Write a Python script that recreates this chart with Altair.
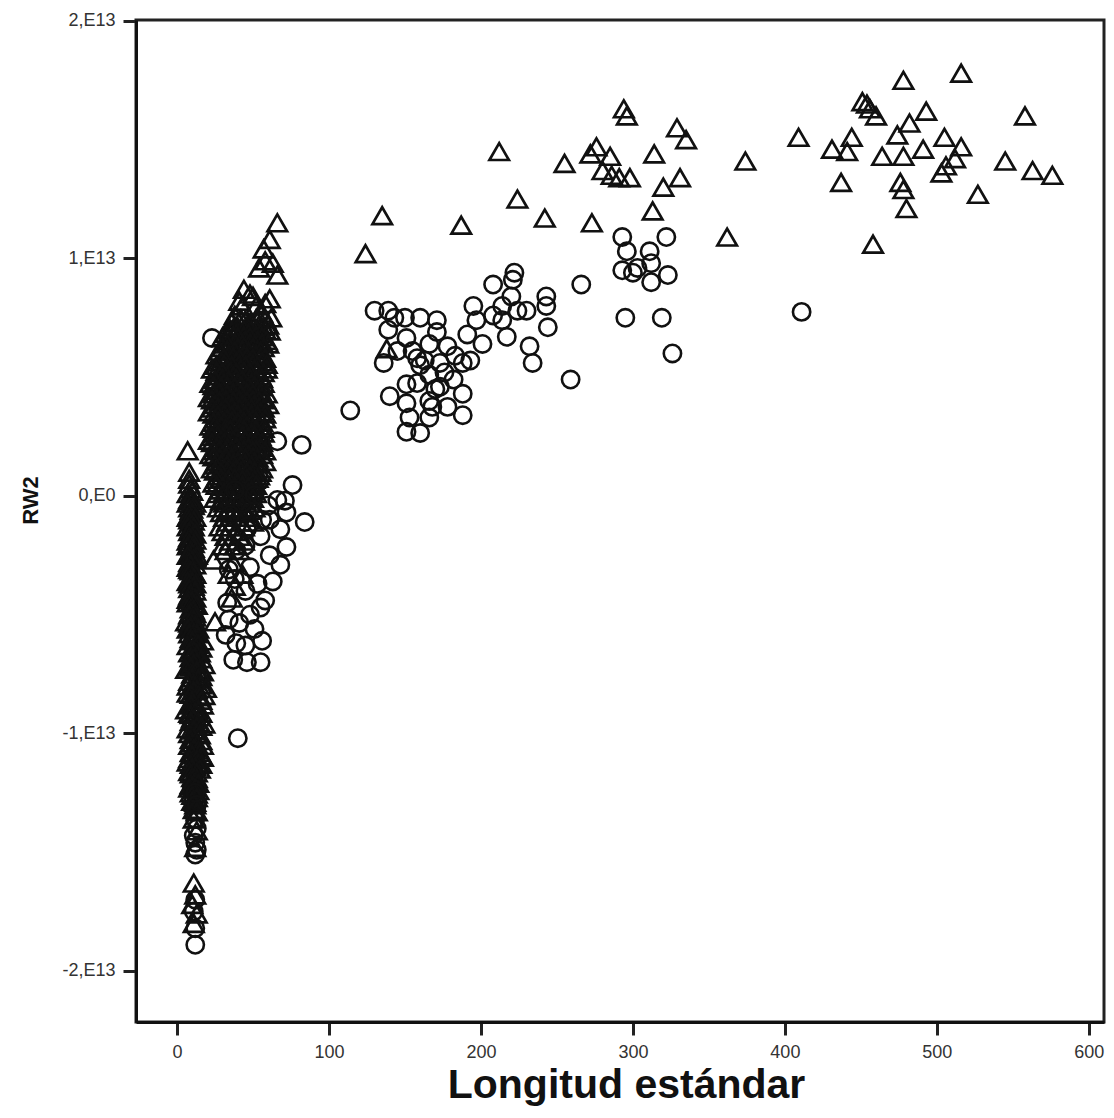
import altair as alt
import pandas as pd

# Values: (Longitud estándar, RW2 in units of 1E12)

# Group 1 (triangles) – large specimens
tri_large = [
    (124, 10.2), (135, 11.8), (187, 11.4), (212, 14.5), (224, 12.5), (242, 11.7),
    (255, 14.0), (273, 11.5), (272, 14.4), (276, 14.7), (285, 14.3), (280, 13.7),
    (286, 13.5), (291, 13.4), (294, 16.3), (296, 16.0), (298, 13.4), (314, 14.4),
    (313, 12.0), (320, 13.0), (329, 15.5), (331, 13.4), (335, 15.0), (362, 10.9),
    (374, 14.1), (409, 15.1), (431, 14.6), (437, 13.2), (441, 14.5), (444, 15.1),
    (451, 16.6), (454, 16.5), (456, 16.3), (458, 10.6), (460, 16.0), (464, 14.3),
    (474, 15.2), (478, 17.5), (476, 13.2), (478, 12.9), (480, 12.1), (478, 14.3),
    (482, 15.7), (491, 14.6), (493, 16.2), (503, 13.6), (506, 13.9), (505, 15.1),
    (512, 14.2), (516, 14.7), (516, 17.8), (527, 12.7), (545, 14.1), (558, 16.0),
    (563, 13.7), (576, 13.5), (138, 6.2),
]

# Group 1 (triangles) – smallest specimens, narrow column
tri_col_a = [
    (7, 1.9), (8, 1.0), (8, 0.7), (8, 0.5), (9, 0.3), (10, 0.2), (7, 0.1),
    (10, -0.1), (8, -0.15), (9, -0.2), (7, -0.3), (12, -0.3), (11, -0.4), (8, -0.5),
    (10, -0.55), (9, -0.6), (10, -0.7), (8, -0.8), (7, -0.9), (12, -0.9), (8, -1.0),
    (11, -1.05), (9, -1.1), (10, -1.2), (11, -1.3), (7, -1.3), (9, -1.4), (8, -1.5),
    (11, -1.55), (12, -1.6), (10, -1.7), (8, -1.75), (9, -1.8), (12, -1.85),
    (7, -1.9), (8, -2.0), (11, -2.0), (7, -2.1), (10, -2.15), (11, -2.2), (9, -2.3),
    (10, -2.4), (8, -2.45), (7, -2.5), (13, -2.5), (12, -2.6), (11, -2.65),
    (10, -2.7), (8, -2.8), (12, -2.9), (9, -2.9), (7, -3.0), (8, -3.1), (9, -3.15),
    (11, -3.2), (12, -3.3), (10, -3.4), (11, -3.45), (9, -3.5), (7, -3.6),
    (10, -3.6), (8, -3.7), (12, -3.7), (11, -3.8), (8, -3.9), (12, -4.0), (9, -4.1),
    (8, -4.2), (10, -4.25), (12, -4.3), (7, -4.35), (10, -4.4), (7, -4.5),
    (11, -4.55), (13, -4.6), (10, -4.7), (9, -4.75), (11, -4.8), (9, -4.9),
    (12, -4.95), (8, -5.0), (12, -5.1), (10, -5.15), (11, -5.2),
    (6, -5.3), (8, -5.35), (10, -5.4), (12, -5.45), (9, -5.5), (14, -5.6), (7, -5.6),
    (11, -5.75), (8, -5.8), (13, -5.8), (12, -6.0), (9, -6.0), (17, -6.1), (10, -6.1),
    (13, -6.2), (14, -6.25), (7, -6.3), (16, -6.4), (10, -6.45), (11, -6.5),
    (15, -6.6), (8, -6.6), (13, -6.65), (9, -6.8), (12, -6.8), (16, -6.85),
    (10, -6.9), (13, -7.0), (11, -7.05), (18, -7.1), (8, -7.15), (9, -7.2),
    (6, -7.3), (15, -7.3), (13, -7.35), (17, -7.4), (10, -7.5), (16, -7.6),
    (10, -7.65), (14, -7.7), (8, -7.8), (11, -7.9), (16, -7.95), (12, -8.0),
    (7, -8.0), (19, -8.1), (13, -8.15), (11, -8.2), (7, -8.3), (9, -8.35),
    (14, -8.4), (18, -8.4), (15, -8.45), (10, -8.6), (16, -8.6), (11, -8.75),
    (17, -8.8), (9, -8.8), (13, -8.95), (6, -9.0), (14, -9.0), (12, -9.1),
    (8, -9.15), (16, -9.15), (9, -9.2), (15, -9.3), (10, -9.35), (11, -9.4),
    (9, -9.5), (14, -9.55), (18, -9.6), (13, -9.7), (16, -9.7), (7, -9.8),
    (11, -9.85), (13, -10.0), (8, -10.0), (15, -10.05), (11, -10.2), (9, -10.25),
    (16, -10.3), (10, -10.4), (13, -10.45), (8, -10.5), (17, -10.5), (12, -10.6),
    (11, -10.65), (14, -10.7), (15, -10.8), (9, -10.8), (10, -10.9), (16, -10.95),
    (17, -11.0), (8, -11.05), (13, -11.1), (7, -11.2), (14, -11.25), (9, -11.3),
    (16, -11.3), (12, -11.4), (10, -11.45), (15, -11.5), (8, -11.6), (13, -11.65),
    (9, -11.7), (12, -11.8), (10, -11.85), (13, -11.9), (11, -11.9), (12, -12.05),
    (11, -12.1), (14, -12.1), (9, -12.15), (10, -12.2), (8, -12.3), (12, -12.3),
    (14, -12.4), (9, -12.5), (13, -12.55), (10, -12.6), (13, -12.7), (11, -12.8),
    (10, -12.85), (12, -12.9), (12, -13.0), (11, -13.2), (13, -13.3), (11, -13.6),
    (13, -14.1), (12, -14.8),
    (11, -16.3), (12, -16.8), (10, -17.2), (13, -17.6), (11, -18.0),
]

# Group 1 (triangles) – mid-size specimens, wide column
tri_col_b = [
    (66, 11.5), (61, 10.8), (57, 10.4), (66, 9.3), (58, 9.9), (54, 9.6), (63, 9.8),
    (44, 8.7), (48, 8.5), (50, 8.4), (41, 8.2), (61, 8.3), (58, 8.1), (43, 8.0),
    (52, 8.0), (38, 7.6), (56, 7.7), (62, 7.5), (42, 7.45), (52, 7.45), (58, 7.45),
    (45, 7.4), (36, 7.3), (49, 7.3), (60, 7.2), (54, 7.2), (38, 7.15), (46, 7.15),
    (57, 7.15), (40, 7.1),
    (35, 7.0), (44, 7.0), (52, 7.0), (58, 7.0), (36, 6.95), (49, 6.95), (61, 6.95),
    (32, 6.85), (39, 6.85), (47, 6.85), (55, 6.85), (37, 6.75), (44, 6.75), (52, 6.75),
    (30, 6.7), (40, 6.7), (48, 6.7), (56, 6.7),
    (35, 6.55), (45, 6.55), (53, 6.55), (59, 6.55), (38, 6.45), (48, 6.45), (56, 6.45),
    (33, 6.4), (43, 6.4), (51, 6.4), (60, 6.4),
    (30, 6.25), (40, 6.25), (50, 6.25), (57, 6.25), (33, 6.15), (43, 6.15), (53, 6.15),
    (28, 6.1), (38, 6.1), (47, 6.1), (55, 6.1),
    (26, 5.95), (34, 5.95), (44, 5.95), (52, 5.95), (37, 5.85), (46, 5.85), (55, 5.85),
    (31, 5.8), (41, 5.8), (50, 5.8), (58, 5.8),
    (29, 5.65), (39, 5.65), (48, 5.65), (56, 5.65), (31, 5.55), (41, 5.55), (50, 5.55),
    (59, 5.55),
    (26, 5.5), (36, 5.5), (45, 5.5), (53, 5.5),
    (23, 5.35), (33, 5.35), (42, 5.35), (51, 5.35), (59, 5.35),
    (26, 5.25), (35, 5.25), (44, 5.25), (53, 5.25),
    (30, 5.2), (39, 5.2), (48, 5.2), (57, 5.2),
    (28, 5.05), (37, 5.05), (46, 5.05), (55, 5.05),
    (30, 4.95), (39, 4.95), (48, 4.95), (56, 4.95),
    (25, 4.9), (34, 4.9), (43, 4.9), (52, 4.9),
    (22, 4.75), (31, 4.75), (40, 4.75), (49, 4.75), (57, 4.75),
    (24, 4.65), (33, 4.65), (42, 4.65), (51, 4.65),
    (29, 4.6), (38, 4.6), (47, 4.6), (55, 4.6),
    (26, 4.45), (35, 4.45), (44, 4.45), (53, 4.45),
    (28, 4.35), (37, 4.35), (46, 4.35), (55, 4.35),
    (24, 4.3), (33, 4.3), (42, 4.3), (50, 4.3), (59, 4.3),
    (21, 4.15), (30, 4.15), (39, 4.15), (48, 4.15), (56, 4.15),
    (23, 4.05), (32, 4.05), (41, 4.05), (50, 4.05), (58, 4.05),
    (28, 4.0), (37, 4.0), (46, 4.0), (54, 4.0),
    (25, 3.85), (34, 3.85), (43, 3.85), (51, 3.85), (60, 3.85),
    (27, 3.75), (36, 3.75), (45, 3.75), (54, 3.75),
    (23, 3.7), (32, 3.7), (41, 3.7), (49, 3.7), (57, 3.7),
    (21, 3.55), (29, 3.55), (38, 3.55), (47, 3.55), (55, 3.55),
    (24, 3.45), (31, 3.45), (40, 3.45), (49, 3.45), (58, 3.45),
    (27, 3.4), (36, 3.4), (45, 3.4), (53, 3.4),
    (25, 3.25), (33, 3.25), (42, 3.25), (50, 3.25), (58, 3.25),
    (27, 3.15), (36, 3.15), (44, 3.15), (52, 3.15),
    (24, 3.1), (31, 3.1), (40, 3.1), (48, 3.1), (56, 3.1),
    (22, 2.95), (29, 2.95), (38, 2.95), (46, 2.95), (54, 2.95),
    (24, 2.85), (32, 2.85), (41, 2.85), (50, 2.85), (57, 2.85),
    (26, 2.8), (35, 2.8), (44, 2.8), (52, 2.8),
    (25, 2.65), (32, 2.65), (41, 2.65), (49, 2.65), (57, 2.65),
    (27, 2.55), (35, 2.55), (43, 2.55), (51, 2.55),
    (23, 2.5), (30, 2.5), (39, 2.5), (47, 2.5), (55, 2.5),
    (21, 2.35), (29, 2.35), (37, 2.35), (45, 2.35), (53, 2.35),
    (23, 2.25), (31, 2.25), (40, 2.25), (48, 2.25), (56, 2.25),
    (27, 2.2), (34, 2.2), (43, 2.2), (51, 2.2),
    (26, 2.05), (33, 2.05), (39, 2.05), (47, 2.05), (55, 2.05),
    (28, 1.95), (36, 1.95), (44, 1.95), (52, 1.95),
    (24, 1.9), (32, 1.9), (41, 1.9), (50, 1.9), (58, 1.9),
    (22, 1.75), (30, 1.75), (38, 1.75), (47, 1.75), (56, 1.75),
    (24, 1.65), (32, 1.65), (42, 1.65), (50, 1.65),
    (28, 1.6), (36, 1.6), (45, 1.6), (53, 1.6),
    (26, 1.45), (34, 1.45), (40, 1.45), (51, 1.45), (58, 1.45),
    (29, 1.35), (37, 1.35), (45, 1.35), (54, 1.35),
    (25, 1.3), (33, 1.3), (42, 1.3), (49, 1.3),
    (23, 1.15), (31, 1.15), (39, 1.15), (48, 1.15), (56, 1.15),
    (25, 1.05), (33, 1.05), (42, 1.05), (51, 1.05),
    (29, 1.0), (37, 1.0), (46, 1.0), (55, 1.0),
    (27, 0.85), (35, 0.85), (41, 0.85), (48, 0.85), (54, 0.85),
    (29, 0.75), (38, 0.75), (46, 0.75), (53, 0.75),
    (26, 0.7), (34, 0.7), (43, 0.7), (51, 0.7),
    (24, 0.55), (32, 0.55), (40, 0.55), (50, 0.55),
    (26, 0.45), (34, 0.45), (43, 0.45), (52, 0.45),
    (30, 0.4), (38, 0.4), (47, 0.4),
    (28, 0.25), (33, 0.25), (41, 0.25), (49, 0.25),
    (31, 0.15), (39, 0.15), (47, 0.15),
    (27, 0.1), (35, 0.1), (44, 0.1), (52, 0.1),
    (25, -0.1), (33, -0.1), (42, -0.1), (50, -0.1),
    (29, -0.2), (37, -0.2), (45, -0.2),
    (31, -0.3), (40, -0.3), (48, -0.3),
    (27, -0.5), (35, -0.5), (43, -0.5), (51, -0.5),
    (33, -0.6), (41, -0.6), (48, -0.6),
    (29, -0.7), (37, -0.7), (45, -0.7),
    (31, -0.9), (39, -0.9), (47, -0.9),
    (33, -1.1), (42, -1.1), (50, -1.1),
    (28, -1.3), (35, -1.3), (44, -1.3),
    (30, -1.5), (39, -1.5), (32, -1.7), (41, -1.7),
    (35, -1.9), (44, -1.9), (30, -2.1), (38, -2.1),
    (32, -2.3), (41, -2.3), (24, -2.7), (37, -2.8),
    (34, -3.3), (43, -3.3), (38, -3.8), (36, -4.3), (25, -5.3),
]

# Group 2 (circles) – mid-size and large specimens
circ_mid = [
    (130, 7.8), (139, 7.8), (150, 7.5), (160, 7.5), (171, 7.4), (139, 7.0),
    (136, 5.6), (114, 3.6), (151, 6.65), (158, 5.8), (166, 6.4), (171, 6.9),
    (178, 6.3), (173, 5.6), (166, 5.1), (158, 4.75), (151, 4.7), (140, 4.2),
    (151, 3.9), (166, 4.0), (173, 4.6), (182, 4.9), (188, 4.3), (188, 5.6),
    (193, 5.7), (191, 6.8), (201, 6.4), (195, 8.0), (197, 7.4), (208, 7.6),
    (214, 8.0), (220, 8.4), (221, 9.1), (208, 8.9), (222, 9.4), (214, 7.4),
    (217, 6.7), (224, 7.8), (230, 7.8), (232, 6.3), (234, 5.6), (243, 8.4),
    (243, 8.0), (244, 7.1), (259, 4.9), (266, 8.9), (151, 2.7), (160, 2.65),
    (168, 3.75), (178, 3.75), (188, 3.4), (166, 3.3), (153, 3.3), (163, 5.7),
    (176, 5.2), (183, 5.9), (145, 6.1), (143, 7.5), (155, 6.1), (170, 4.5),
    (160, 5.5),
    (293, 10.9), (296, 10.3), (293, 9.5), (300, 9.4), (311, 10.3), (312, 9.8),
    (312, 9.0), (322, 10.9), (323, 9.3), (303, 9.6), (295, 7.5), (319, 7.5),
    (326, 6.0), (411, 7.75),
]

# Group 2 (circles) – small specimens
circ_small = [
    (23, 6.65), (66, 2.3), (82, 2.15), (76, 0.46), (84, -1.1), (72, -2.15),
    (72, -0.7), (66, -0.17), (43, -0.3), (46, -1.4), (55, -1.7), (39, -2.3),
    (48, -3.0), (63, -3.6), (55, -4.7), (33, -4.5), (41, -5.35), (39, -6.2),
    (37, -6.9), (46, -7.0), (55, -7.0), (40, -10.2),
    (38, 0.25), (51, 0.04), (60, -0.4), (35, -0.8), (56, -1.0), (68, -1.4),
    (45, -2.1), (61, -2.5), (34, -3.1), (53, -3.7), (68, -2.9), (45, -4.0),
    (38, -3.5), (58, -4.4), (48, -5.0), (34, -5.2), (51, -5.6), (45, -6.3),
    (56, -6.1), (32, -5.85), (61, -1.0), (71, -0.2),
    (12, -12.5), (13, -13.0), (12, -13.6), (13, -14.0), (11, -14.3), (12, -14.6),
    (13, -14.9), (12, -15.1), (12, -17.0), (11, -17.5), (12, -18.2), (12, -18.9),
]

UNIT = 1e12


def frame(points):
    return pd.DataFrame({
        "longitud": [p[0] for p in points],
        "rw2": [p[1] * UNIT for p in points],
    })


tri_df = frame(tri_large + tri_col_a + tri_col_b)
circ_df = frame(circ_mid + circ_small)

FONT = "Liberation Sans"

x_enc = alt.X(
    "longitud:Q",
    scale=alt.Scale(domain=[-27, 610], nice=False, zero=False),
    axis=alt.Axis(
        title="Longitud estándar",
        values=[0, 100, 200, 300, 400, 500, 600],
        grid=False,
        tickSize=13, tickWidth=3, tickColor="#222",
        domainColor="#111", domainWidth=3,
        labelFontSize=18, labelColor="#333", labelFont=FONT, labelPadding=8,
        titleFontSize=41, titleFont=FONT, titleFontWeight="bold", titleColor="#111",
        titleX=490, titleY=75, titleAnchor="middle", titleBaseline="alphabetic",
    ),
)
y_enc = alt.Y(
    "rw2:Q",
    scale=alt.Scale(domain=[-22.15e12, 20.04e12], nice=False, zero=False),
    axis=alt.Axis(
        title="RW2",
        values=[-2e13, -1e13, 0, 1e13, 2e13],
        labelExpr="datum.value == 0 ? '0,E0' : (datum.value / 1e13) + ',E13'",
        grid=False,
        tickSize=13, tickWidth=3, tickColor="#222",
        domainColor="#111", domainWidth=3,
        labelFontSize=18, labelColor="#333", labelFont=FONT, labelPadding=8,
        titleFontSize=22, titleFont=FONT, titleFontWeight="bold", titleColor="#111",
        titleX=-106, titleY=480, titleAngle=270, titleAlign="center", titleBaseline="middle",
    ),
)

triangles = alt.Chart(tri_df).mark_point(
    shape="triangle-up", size=380, filled=False, stroke="#111", strokeWidth=2.7, opacity=1
).encode(x=x_enc, y=y_enc)

circles = alt.Chart(circ_df).mark_point(
    shape="circle", size=300, filled=False, stroke="#111", strokeWidth=2.6, opacity=1
).encode(x=x_enc, y=y_enc)

chart = (
    alt.layer(triangles, circles)
    .properties(
        width=968,
        height=1002,
        autosize=alt.AutoSizeParams(type="none"),
        padding={"left": 136, "top": 20, "right": 10, "bottom": 96},
        background="white",
    )
    .configure_view(stroke="#222", strokeWidth=3)
)

chart.save("out.html", embed_options={"renderer": "svg", "actions": False})
